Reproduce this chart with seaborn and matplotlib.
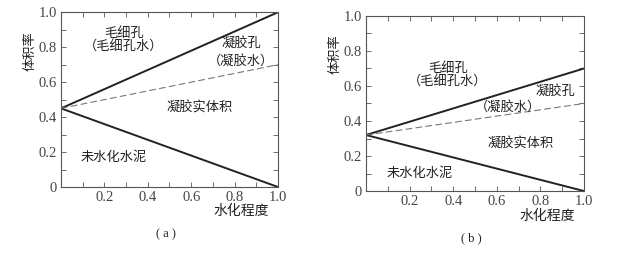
import matplotlib
matplotlib.use("Agg")
import matplotlib.pyplot as plt
import seaborn as sns
import pandas as pd
import numpy as np

sns.set_theme(style="white")
plt.rcParams['font.family'] = ['Noto Sans CJK SC', 'DejaVu Sans']

hydration = [0.0, 1.0]
# panel (a)
a_upper = [0.45, 1.0]
a_gel = [0.45, 0.70]
a_lower = [0.45, 0.0]
# panel (b)
b_upper = [0.32, 0.70]
b_gel = [0.32, 0.50]
b_lower = [0.32, 0.0]

xticks = [0.2, 0.4, 0.6, 0.8, 1.0]
xtick_labels = ["0.2", "0.4", "0.6", "0.8", "1.0"]
yticks = [0, 0.2, 0.4, 0.6, 0.8, 1.0]
ytick_labels = ["0", "0.2", "0.4", "0.6", "0.8", "1.0"]

a_texts = [("毛细孔", 0.29, 0.88), ("（毛细孔水）", 0.29, 0.80),
           ("凝胶孔", 0.83, 0.82), ("（凝胶水）", 0.83, 0.72),
           ("凝胶实体积", 0.64, 0.45), ("未水化水泥", 0.245, 0.17)]
b_texts = [("毛细孔", 0.375, 0.70), ("（毛细孔水）", 0.375, 0.62),
           ("凝胶孔", 0.87, 0.57), ("（凝胶水）", 0.65, 0.48),
           ("凝胶实体积", 0.71, 0.27), ("未水化水泥", 0.245, 0.10)]

fig = plt.figure(figsize=(6.39, 2.61), dpi=100)
ax_a = fig.add_axes([0.0955, 0.2835, 0.3395, 0.6695])
ax_b = fig.add_axes([0.5728, 0.268, 0.3412, 0.671])

serif = ['Liberation Serif', 'DejaVu Serif']

def draw(ax, upper, gel, lower, texts, label):
    df = pd.DataFrame({"x": hydration, "upper": upper, "gel": gel, "lower": lower})
    sns.lineplot(data=df, x="x", y="upper", ax=ax, color="#222222", lw=1.4)
    sns.lineplot(data=df, x="x", y="lower", ax=ax, color="#222222", lw=1.4)
    sns.lineplot(data=df, x="x", y="gel", ax=ax, color="#777777", lw=0.8, linestyle=(0, (6, 3)))
    ax.set_xlim(0, 1)
    ax.set_ylim(0, 1)
    ax.set_xticks(xticks)
    ax.set_xticklabels(xtick_labels, family=serif, fontsize=10.5, color="#444444")
    ax.set_yticks(yticks)
    ax.set_yticklabels(ytick_labels, family=serif, fontsize=10.5, color="#444444")
    ax.set_xticks(np.arange(0.1, 1.0, 0.2), minor=True)
    ax.set_yticks(np.arange(0.1, 1.0, 0.2), minor=True)
    ax.tick_params(which="both", direction="in", top=True, right=True, bottom=True, left=True,
                   length=3.5, width=0.6, color="#555555", pad=3)
    for s in ax.spines.values():
        s.set_color("#555555")
        s.set_linewidth(0.8)
    ax.set_xlabel("")
    ax.set_ylabel("")
    for t, x, y in texts:
        ax.text(x, y, t, ha="center", va="center", fontsize=9.5, color="#222222")
    ax.text(0.83, -0.14, "水化程度", transform=ax.transAxes, ha="center", va="center",
            fontsize=10, color="#222222")
    ax.text(-0.143, 0.78, "体积率", transform=ax.transAxes, ha="center", va="center",
            rotation=90, fontsize=9.5, color="#222222")
    ax.text(0.484, -0.27, label, transform=ax.transAxes, ha="center", va="center",
            fontsize=9, color="#222222", family=serif)

draw(ax_a, a_upper, a_gel, a_lower, a_texts, "( a )")
draw(ax_b, b_upper, b_gel, b_lower, b_texts, "( b )")

fig.savefig("out.png", dpi=100)
